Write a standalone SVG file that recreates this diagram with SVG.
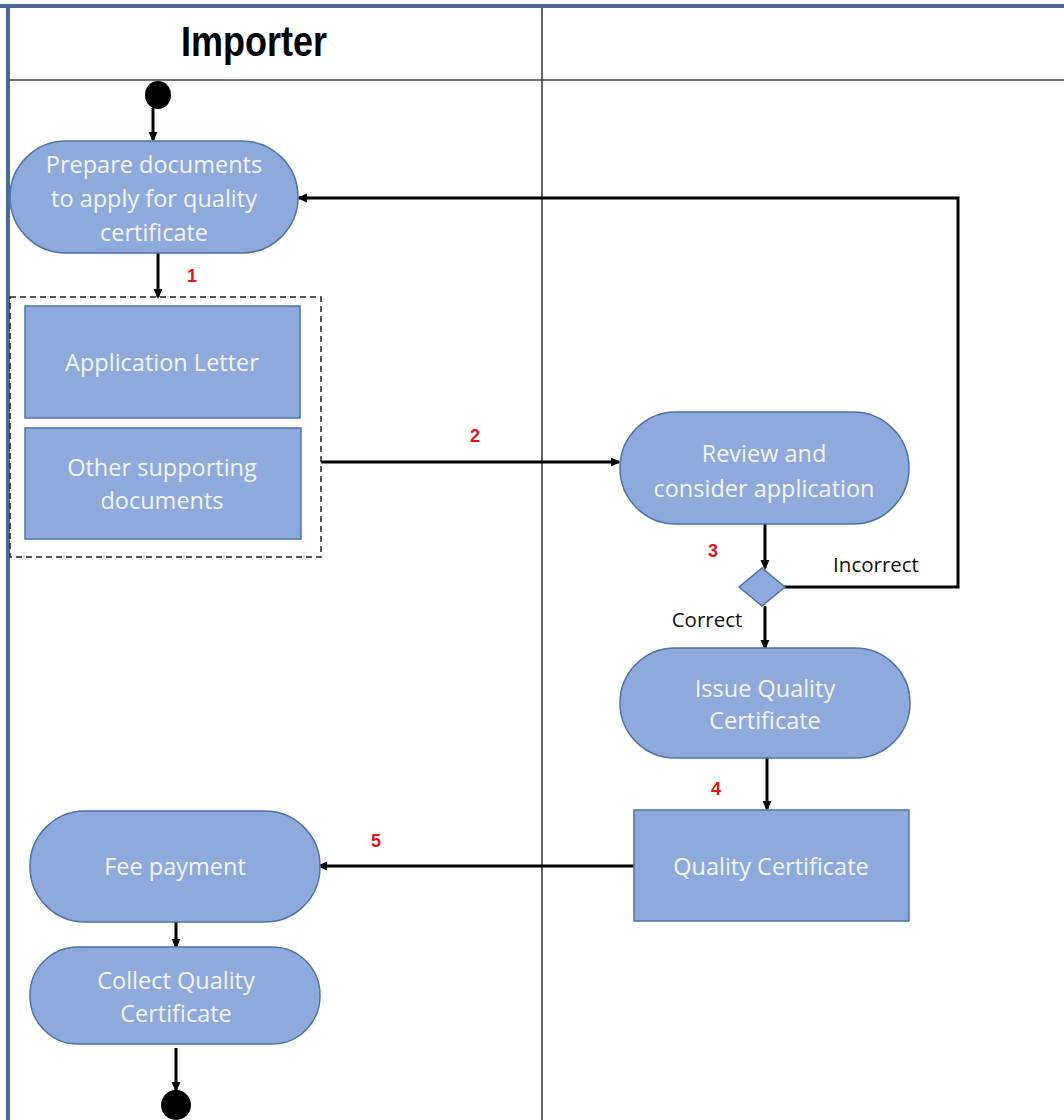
<svg xmlns="http://www.w3.org/2000/svg" width="1064" height="1120" viewBox="0 0 1064 1120">
<style>
.act{fill:#8eaadb;stroke:#4f72a8;stroke-width:1.5}
.lbl{font-family:"Open Sans","Noto Sans","Liberation Sans",sans-serif;font-size:23.5px;fill:#f2f5fb;text-anchor:middle}
.num{font-family:"Liberation Sans",sans-serif;font-size:18px;font-weight:bold;fill:#e0141e;text-anchor:middle}
.cond{font-family:"Open Sans","Noto Sans","Liberation Sans",sans-serif;font-size:20.5px;fill:#111;text-anchor:middle}
.ln{fill:none;stroke:#000;stroke-width:3}
</style>
<defs>
<marker id="ah" markerWidth="10" markerHeight="10" refX="8" refY="5" orient="auto" markerUnits="userSpaceOnUse">
<path d="M0,0.5 L10,5 L0,9.5 z" fill="#000"/>
</marker>
</defs>
<rect width="1064" height="1120" fill="#fff"/>
<g id="lanes">
<line x1="0" y1="6" x2="1064" y2="6" stroke="#4a6a93" stroke-width="4"/>
<line x1="8" y1="4" x2="8" y2="1120" stroke="#4a6a93" stroke-width="4"/>
<line x1="10" y1="80" x2="1064" y2="80" stroke="#444" stroke-width="1.5"/>
<line x1="542" y1="8" x2="542" y2="1120" stroke="#333" stroke-width="1.5"/>
<text x="254" y="56" transform="translate(254 56) scale(1 1.2) translate(-254 -56)" font-family="'Liberation Sans',Arial,sans-serif" font-weight="bold" font-size="36" text-anchor="middle" fill="#000">Importer</text>
</g>
<g id="connectors">
<line class="ln" x1="153" y1="108" x2="153" y2="140" marker-end="url(#ah)"/>
<line class="ln" x1="158" y1="253" x2="158" y2="297" marker-end="url(#ah)"/>
<line class="ln" x1="321" y1="462" x2="619" y2="462" marker-end="url(#ah)"/>
<line class="ln" x1="765" y1="524" x2="765" y2="568" marker-end="url(#ah)"/>
<polyline class="ln" points="784,587 958,587 958,198 299,198" marker-end="url(#ah)"/>
<line class="ln" x1="765" y1="606" x2="765" y2="648" marker-end="url(#ah)"/>
<line class="ln" x1="767" y1="758" x2="767" y2="809" marker-end="url(#ah)"/>
<line class="ln" x1="634" y1="866" x2="319" y2="866" marker-end="url(#ah)"/>
<line class="ln" x1="176" y1="922" x2="176" y2="947" marker-end="url(#ah)"/>
<line class="ln" x1="176" y1="1048" x2="176" y2="1090" marker-end="url(#ah)"/>
<text class="num" x="192" y="282">1</text>
<text class="num" x="475" y="442">2</text>
<text class="num" x="713" y="557">3</text>
<text class="num" x="716" y="795">4</text>
<text class="num" x="376" y="847">5</text>
<text class="cond" x="876" y="572">Incorrect</text>
<text class="cond" x="707" y="627">Correct</text>
</g>
<g id="start"><ellipse cx="158" cy="95" rx="13" ry="14" fill="#000"/></g>
<g id="prepare">
<rect class="act" x="10" y="141" width="288" height="112" rx="56"/>
<text class="lbl" x="154" y="173">Prepare documents</text>
<text class="lbl" x="154" y="207">to apply for quality</text>
<text class="lbl" x="154" y="241">certificate</text>
</g>
<g id="docs">
<rect x="10" y="297" width="311" height="260" fill="none" stroke="#222" stroke-width="1.5" stroke-dasharray="6,4"/>
</g>
<g id="appletter">
<rect class="act" x="25" y="306" width="275" height="112"/>
<text class="lbl" x="162" y="371">Application Letter</text>
</g>
<g id="otherdocs">
<rect class="act" x="25" y="428" width="276" height="111"/>
<text class="lbl" x="162" y="476">Other supporting</text>
<text class="lbl" x="162" y="509">documents</text>
</g>
<g id="review">
<rect class="act" x="620" y="412" width="289" height="112" rx="56"/>
<text class="lbl" x="764" y="462">Review and</text>
<text class="lbl" x="764" y="497">consider application</text>
</g>
<g id="decision">
<polygon class="act" points="762,568 785,587 762,606 739,587"/>
</g>
<g id="issue">
<rect class="act" x="620" y="648" width="290" height="110" rx="55"/>
<text class="lbl" x="765" y="697">Issue Quality</text>
<text class="lbl" x="765" y="729">Certificate</text>
</g>
<g id="qcert">
<rect class="act" x="634" y="810" width="275" height="111"/>
<text class="lbl" x="771" y="875">Quality Certificate</text>
</g>
<g id="fee">
<rect class="act" x="30" y="811" width="290" height="111" rx="55"/>
<text class="lbl" x="175" y="875">Fee payment</text>
</g>
<g id="collect">
<rect class="act" x="30" y="947" width="290" height="97" rx="48"/>
<text class="lbl" x="176" y="989">Collect Quality</text>
<text class="lbl" x="176" y="1022">Certificate</text>
</g>
<g id="end"><circle cx="176" cy="1105" r="15" fill="#000"/></g>
</svg>
